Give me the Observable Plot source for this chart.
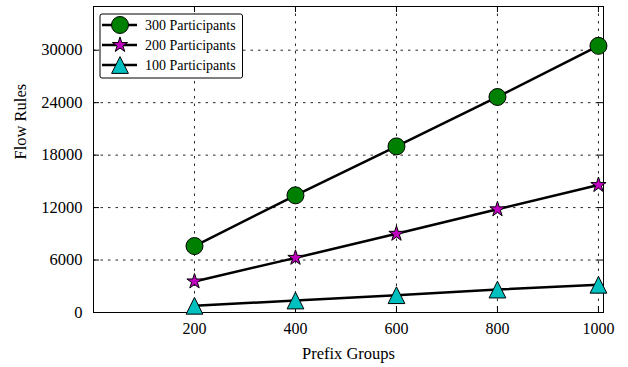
<!DOCTYPE html>
<html>
<head>
<meta charset="utf-8">
<script src="https://cdn.jsdelivr.net/npm/d3@7"></script>
<script src="https://cdn.jsdelivr.net/npm/@observablehq/plot@0.6"></script>
<style>
  html, body { margin: 0; padding: 0; background: #fff; }
  #chart { width: 628px; height: 367px; }
</style>
</head>
<body>
<div id="chart"></div>
<script>
// Flow rules needed per number of prefix groups, for three participant counts
const prefixGroups = [200, 400, 600, 800, 1000];
const rules300 = [7600, 13400, 19000, 24650, 30500];
const rules200 = [3550, 6250, 9000, 11800, 14580];
const rules100 = [770, 1370, 1980, 2620, 3170];

const xTicks = [200, 400, 600, 800, 1000];
const yTicks = [0, 6000, 12000, 18000, 24000, 30000];

// Upward triangle as tall as it is wide, centred on its bounding box
const triangleUp = {
  draw(context, size) {
    const h = Math.sqrt(size / Math.PI) * 1.25;
    context.moveTo(0, -h);
    context.lineTo(h, h);
    context.lineTo(-h, h);
    context.closePath();
  }
};

const series = [
  {name: "300 Participants", values: rules300, symbol: d3.symbolCircle, fill: "#008000", r: 8.5},
  {name: "200 Participants", values: rules200, symbol: d3.symbolStar, fill: "#bf00bf", r: 4.8},
  {name: "100 Participants", values: rules100, symbol: triangleUp, fill: "#00bfbf", r: 6.7}
];

const rows = series.flatMap(s => s.values.map((v, i) => ({series: s.name, x: prefixGroups[i], y: v})));

const W = 628, H = 367;
const mL = 93, mR = 25, mT = 6, mB = 55;
const innerW = W - mL - mR, innerH = H - mT - mB;
const font = "'Liberation Serif', 'DejaVu Serif', serif";
const dash = "2.5,5";

const marks = [
  Plot.ruleX(xTicks, {stroke: "#000", strokeOpacity: 0.85, strokeDasharray: dash}),
  Plot.ruleY(yTicks.filter(d => d > 0), {stroke: "#000", strokeOpacity: 0.85, strokeDasharray: dash}),
  // inward tick marks on all four sides
  Plot.tickX(xTicks, {x: d => d, insetTop: innerH - 6, stroke: "#000"}),
  Plot.tickX(xTicks, {x: d => d, insetBottom: innerH - 6, stroke: "#000"}),
  Plot.tickY(yTicks, {y: d => d, insetRight: innerW - 6, stroke: "#000"}),
  Plot.tickY(yTicks, {y: d => d, insetLeft: innerW - 6, stroke: "#000"}),
  Plot.axisX(xTicks, {tickSize: 0, tickPadding: 10, fontSize: 16, label: null, tickFormat: d => String(d)}),
  Plot.axisY(yTicks, {tickSize: 0, tickPadding: 11, fontSize: 16.5, label: null, tickFormat: d => String(d)}),
  Plot.frame({stroke: "#000"})
];

for (const s of series) {
  const data = rows.filter(d => d.series === s.name);
  marks.push(Plot.line(data, {x: "x", y: "y", stroke: "#000", strokeWidth: 2.5}));
  marks.push(Plot.dot(data, {x: "x", y: "y", symbol: () => s.symbol, r: s.r, fill: s.fill, stroke: "#000", strokeWidth: 1}));
}

marks.push(Plot.text(["Prefix Groups"], {frameAnchor: "bottom", dy: 41, fontSize: 16.5, lineAnchor: "middle"}));
marks.push(Plot.text(["Flow Rules"], {frameAnchor: "left", dx: -73, rotate: -90, fontSize: 16.5, lineAnchor: "middle"}));

const chart = Plot.plot({
  width: W,
  height: H,
  marginLeft: mL,
  marginRight: mR,
  marginTop: mT,
  marginBottom: mB,
  style: {fontFamily: font, fontSize: "16px", color: "#000", background: "#fff", overflow: "visible"},
  x: {domain: [0, 1010]},
  y: {domain: [0, 35000]},
  symbol: {type: "identity"},
  marks
});

document.getElementById("chart").appendChild(chart);

// Legend box in the upper-left corner of the plot area
const svg = d3.select(chart);
const lg = svg.append("g").attr("transform", "translate(100,14)");
lg.append("rect").attr("width", 142.5).attr("height", 64).attr("rx", 2)
  .attr("fill", "#fff").attr("stroke", "#000").attr("stroke-width", 1);
series.forEach((s, i) => {
  const y = 11 + i * 20;
  lg.append("line").attr("x1", 2).attr("x2", 37).attr("y1", y).attr("y2", y)
    .attr("stroke", "#000").attr("stroke-width", 2.5);
  lg.append("path")
    .attr("d", d3.symbol(s.symbol, s.r * s.r * Math.PI)())
    .attr("transform", `translate(20,${y})`)
    .attr("fill", s.fill).attr("stroke", "#000").attr("stroke-width", 1);
  lg.append("text").attr("x", 45).attr("y", y).attr("dy", "0.35em")
    .attr("text-anchor", "start")
    .attr("font-size", 14).attr("font-family", font).attr("fill", "#000")
    .text(s.name);
});
</script>
</body>
</html>
